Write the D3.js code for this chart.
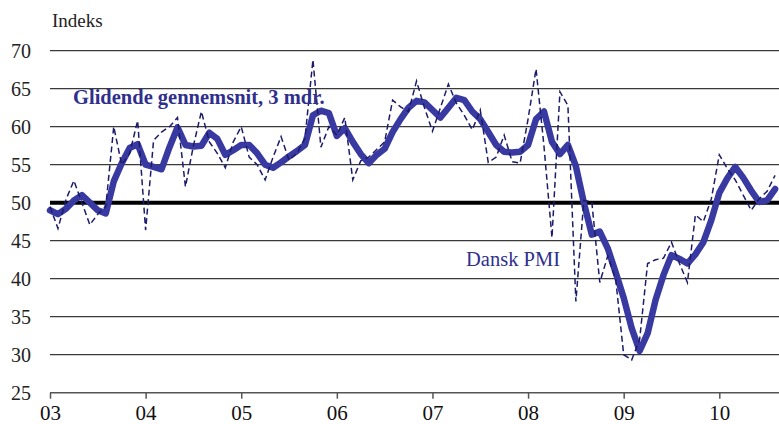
<!DOCTYPE html>
<html>
<head>
<meta charset="utf-8">
<script src="https://cdn.jsdelivr.net/npm/d3@7/dist/d3.min.js"></script>
<style>
  html, body { margin: 0; padding: 0; background: #fff; }
  svg { display: block; }
</style>
</head>
<body>
<svg id="chart" width="779" height="424"></svg>
<script>
// ---- Data (monthly, starting January 2003) ----
const startYear = 2003;
const yearLabels = ["03", "04", "05", "06", "07", "08", "09", "10"];
const yTicks = [25, 30, 35, 40, 45, 50, 55, 60, 65, 70];

// Dansk PMI (monthly index)
const pmi = [
  49.5, 46.6, 50.4, 52.9, 50.0, 47.1, 48.5, 49.5, 60.0, 55.0, 56.5, 60.8,
  46.4, 58.2, 59.3, 60.0, 61.2, 52.1, 57.5, 62.0, 58.0, 56.5, 54.6, 58.0,
  60.0, 56.0, 55.0, 53.0, 56.0, 58.7, 55.6, 56.5, 58.5, 68.8, 57.3, 60.0,
  58.9, 61.2, 53.0, 55.5, 56.0, 57.0, 58.0, 63.5, 62.6, 62.0, 66.0, 62.5,
  59.4, 62.5, 65.6, 63.1, 61.5, 59.6, 62.2, 55.3, 56.0, 58.9, 55.4, 55.2,
  61.0, 67.6, 57.4, 45.4, 64.6, 62.8, 37.0, 50.3, 50.1, 39.5, 43.0, 39.9,
  30.0, 29.3, 32.0, 42.0, 42.5, 42.7, 44.8, 42.0, 39.5, 48.4, 47.5, 50.5,
  56.3, 54.5, 53.0, 51.0, 49.0, 50.5, 51.5, 53.6
];

// Glidende gennemsnit, 3 mdr. (3-month moving average)
const movingAvg = [
  49.0, 48.5, 49.2, 50.3, 51.0, 50.0, 49.0, 48.6, 52.8, 55.2, 57.2, 57.7,
  55.0, 54.7, 54.4, 57.3, 59.9, 57.6, 57.4, 57.5, 59.2, 58.4, 56.3, 56.9,
  57.6, 57.6, 56.5, 55.0, 54.6, 55.3, 56.1, 56.8, 57.6, 61.5, 62.1, 61.8,
  58.8, 59.8, 58.0, 56.4, 55.2, 56.3, 57.1, 59.3, 61.0, 62.5, 63.4, 63.2,
  62.2, 61.2, 62.5, 63.8, 63.5, 62.0, 61.0, 59.3, 57.6, 56.7, 56.6, 56.7,
  57.6, 61.0, 62.0, 58.0, 56.4, 57.6, 54.8, 50.0, 45.8, 46.2, 44.0, 40.8,
  37.5, 33.5, 30.5, 32.8, 37.2, 40.5, 43.1, 42.6, 42.0, 43.2, 44.8, 47.7,
  51.3, 53.2, 54.7, 53.3, 51.6, 50.1, 50.3, 51.8
];

const yAxisTitle = "Indeks";
const maLabel = "Glidende gennemsnit, 3 mdr.";
const pmiLabel = "Dansk PMI";

// ---- Drawing ----
const FONT = "'Liberation Serif', 'Times New Roman', 'DejaVu Serif', serif";
const svg = d3.select("#chart").style("font-family", FONT);
const left = 50, right = 779;

const x = d3.scaleLinear().domain([2003, 2010]).range([50, 719.3]);
const y = d3.scaleLinear().domain([25, 70]).range([392.7, 50.7]);

const t = i => startYear + i / 12;

// horizontal grid lines
svg.append("g")
  .selectAll("line")
  .data(yTicks.filter(v => v !== 25 && v !== 50))
  .join("line")
  .attr("x1", left).attr("x2", right)
  .attr("y1", d => y(d)).attr("y2", d => y(d))
  .attr("stroke", "#3a3a3a")
  .attr("stroke-width", 1.3);

// y tick labels
svg.append("g")
  .selectAll("text")
  .data(yTicks)
  .join("text")
  .attr("x", 31)
  .attr("y", d => y(d))
  .attr("dy", "0.34em")
  .attr("text-anchor", "end")
  .attr("font-size", 20)
  .attr("font-family", FONT)
  .attr("fill", "#222")
  .text(d => d);

// y axis title
svg.append("text")
  .attr("x", 52).attr("y", 27)
  .attr("font-size", 19)
  .attr("font-family", FONT)
  .attr("fill", "#222")
  .text(yAxisTitle);

// bottom axis
const xAxis = d3.axisBottom(x)
  .tickValues(d3.range(yearLabels.length).map(i => startYear + i))
  .tickFormat((d, i) => yearLabels[i])
  .tickSize(6)
  .tickSizeOuter(0);

const gx = svg.append("g")
  .attr("transform", `translate(0,${y(25)})`)
  .call(xAxis)
  .attr("font-family", FONT);
gx.select(".domain").attr("d", `M${left},0H${right}`).attr("stroke", "#555").attr("stroke-width", 1.5);
gx.selectAll(".tick line").attr("stroke", "#555").attr("stroke-width", 1.5);
gx.selectAll(".tick text")
  .attr("y", 27)
  .attr("dy", 0)
  .attr("font-size", 21)
  .attr("font-family", FONT)
  .attr("fill", "#111");

// thick 50 line
svg.append("line")
  .attr("x1", left).attr("x2", right)
  .attr("y1", y(50)).attr("y2", y(50))
  .attr("stroke", "#000")
  .attr("stroke-width", 4);

const lineGen = d3.line()
  .x((d, i) => x(t(i)))
  .y(d => y(d));

// moving average (thick)
svg.append("path")
  .datum(movingAvg)
  .attr("d", lineGen)
  .attr("fill", "none")
  .attr("stroke", "#3939a2")
  .attr("stroke-width", 6.5)
  .attr("stroke-linejoin", "round")
  .attr("stroke-linecap", "round");

// monthly PMI (dashed)
svg.append("path")
  .datum(pmi)
  .attr("d", lineGen)
  .attr("fill", "none")
  .attr("stroke", "#1c1c6a")
  .attr("stroke-width", 1.5)
  .attr("stroke-dasharray", "6,3.5");

// series labels
svg.append("text")
  .attr("x", 73).attr("y", 103.5)
  .attr("font-size", 20.5)
  .attr("font-weight", "bold")
  .attr("font-family", FONT)
  .attr("fill", "#2f2f8c")
  .text(maLabel);

svg.append("text")
  .attr("x", 466).attr("y", 265.5)
  .attr("font-size", 20.5)
  .attr("font-family", FONT)
  .attr("fill", "#2f2f8c")
  .text(pmiLabel);
</script>
</body>
</html>
